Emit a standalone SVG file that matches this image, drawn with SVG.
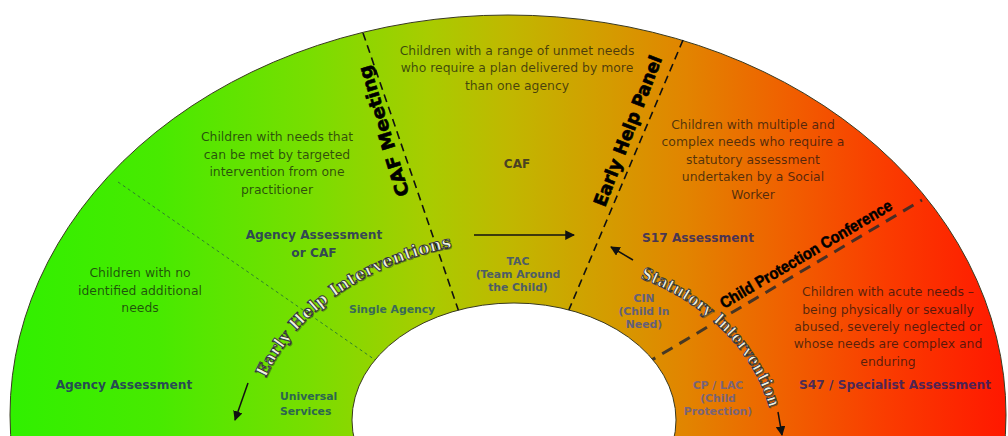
<svg xmlns="http://www.w3.org/2000/svg" width="1008" height="436" viewBox="0 0 1008 436">
<defs>
  <linearGradient id="bg" gradientUnits="userSpaceOnUse" x1="10" y1="0" x2="1005" y2="0">
    <stop offset="0" stop-color="#30f000"/>
    <stop offset="0.15" stop-color="#48ea00"/>
    <stop offset="0.3" stop-color="#78de00"/>
    <stop offset="0.42" stop-color="#a8cc00"/>
    <stop offset="0.5" stop-color="#c0b800"/>
    <stop offset="0.6" stop-color="#d49c00"/>
    <stop offset="0.68" stop-color="#e28400"/>
    <stop offset="0.78" stop-color="#f06000"/>
    <stop offset="0.88" stop-color="#fa3c00"/>
    <stop offset="1" stop-color="#ff1800"/>
  </linearGradient>
  <marker id="ah" viewBox="0 0 10 10" refX="9" refY="5" markerWidth="6.5" markerHeight="6.5" orient="auto"><path d="M0,0 L10,5 L0,10 z" fill="#111"/></marker>
  <path id="p-ehi" d="M 266 378 A 272 200 0 0 1 525 240"/>
  <path id="p-si" d="M 640 278 A 235 190 0 0 1 775 450"/>
</defs>
<style>
  .body{font-family:"DejaVu Sans",Verdana,sans-serif;font-size:12.4px;fill:#101010;fill-opacity:.7;text-anchor:middle}
  .lbl{font-family:"DejaVu Sans",Verdana,sans-serif;font-weight:bold;font-size:12.2px;text-anchor:middle;fill:#20206a;fill-opacity:.8}
  .sub{font-family:"DejaVu Sans",Verdana,sans-serif;font-weight:bold;font-size:10.8px;text-anchor:middle}
  .meet{font-family:"DejaVu Sans",Verdana,sans-serif;font-weight:bold;font-size:18px;fill:#000;stroke:#000;stroke-width:.6px;text-anchor:middle}
  .cpc{font-family:"Liberation Sans",Arial,sans-serif;font-weight:bold;font-size:16px;fill:#000;stroke:#000;stroke-width:.5px}
  .curve{font-family:"DejaVu Serif",serif;font-weight:bold;font-size:17px;fill:#eef2e4;stroke:#333;stroke-width:.9px}
  .shadow{font-family:"DejaVu Serif",serif;font-weight:bold;font-size:17px;fill:#333;fill-opacity:.45}
  .div{fill:none;stroke:#111;stroke-width:1.6;stroke-dasharray:8 5}
  .conn{fill:none;stroke:#111;stroke-width:1.5}
</style>

<g id="band">
  <ellipse cx="508" cy="415" rx="498" ry="400" fill="url(#bg)" stroke="#3a3a20" stroke-width="1"/>
  <line x1="118" y1="182" x2="381" y2="364" stroke="#2f7f2f" stroke-width="1" stroke-dasharray="3 3"/>
  <line class="div" x1="363" y1="33" x2="459" y2="312"/>
  <line class="div" x1="683" y1="40" x2="568" y2="312"/>
  <line x1="645" y1="364" x2="922" y2="200" stroke="#2a2a2a" stroke-width="3" stroke-dasharray="12 8" stroke-opacity=".85"/>
  <ellipse cx="514" cy="420" rx="162" ry="117" fill="#fff" stroke="#3a3a20" stroke-width="1"/>
</g>

<g id="line-labels">
  <text class="meet" transform="translate(384,131) rotate(-107)" y="6" textLength="136" lengthAdjust="spacingAndGlyphs">CAF Meeting</text>
  <text class="meet" transform="translate(628,131) rotate(-69)" y="6" textLength="160" lengthAdjust="spacingAndGlyphs">Early Help Panel</text>
  <text class="cpc" transform="translate(724,309) rotate(-30.6)" textLength="197" lengthAdjust="spacingAndGlyphs">Child Protection Conference</text>
</g>

<g id="curved-labels">
  <text class="shadow" transform="translate(1,1.2)"><textPath href="#p-ehi" textLength="236" lengthAdjust="spacingAndGlyphs">Early Help Interventions</textPath></text>
  <text class="curve"><textPath href="#p-ehi" textLength="236" lengthAdjust="spacingAndGlyphs">Early Help Interventions</textPath></text>
  <text class="shadow" transform="translate(1,1.2)"><textPath href="#p-si" textLength="190" lengthAdjust="spacingAndGlyphs">Statutory Intervention</textPath></text>
  <text class="curve"><textPath href="#p-si" textLength="190" lengthAdjust="spacingAndGlyphs">Statutory Intervention</textPath></text>
</g>

<g id="universal">
  <text class="body" x="140" y="277">Children with no</text>
  <text class="body" x="140" y="294.5">identified additional</text>
  <text class="body" x="140" y="312">needs</text>
  <text class="lbl" x="124" y="389">Agency Assessment</text>
  <text class="sub" x="280" y="399.5" fill="#2d6650" style="text-anchor:start">Universal</text>
  <text class="sub" x="280" y="414.5" fill="#2d6650" style="text-anchor:start">Services</text>
</g>

<g id="single-agency">
  <text class="body" x="277" y="141">Children with needs that</text>
  <text class="body" x="277" y="158.5">can be met by targeted</text>
  <text class="body" x="277" y="176">intervention from one</text>
  <text class="body" x="277" y="193.5">practitioner</text>
  <text class="lbl" x="314" y="239">Agency Assessment</text>
  <text class="lbl" x="314" y="257">or CAF</text>
  <text class="sub" x="392" y="313" fill="#3a6a58">Single Agency</text>
</g>

<g id="multi-agency">
  <text class="body" x="517" y="54.5">Children with a range of unmet needs</text>
  <text class="body" x="517" y="72">who require a plan delivered by more</text>
  <text class="body" x="517" y="89.5">than one agency</text>
  <text class="sub" x="517" y="167.5" fill="#4a4222" style="font-size:12px">CAF</text>
  <text class="sub" x="518" y="265" fill="#4d5d66">TAC</text>
  <text class="sub" x="518" y="278" fill="#4d5d66">(Team Around</text>
  <text class="sub" x="518" y="291" fill="#4d5d66">the Child)</text>
</g>

<g id="child-in-need">
  <text class="body" x="753" y="128.5">Children with multiple and</text>
  <text class="body" x="753" y="146">complex needs who require a</text>
  <text class="body" x="753" y="163.5">statutory assessment</text>
  <text class="body" x="753" y="181">undertaken by a Social</text>
  <text class="body" x="753" y="198.5">Worker</text>
  <text class="lbl" x="698" y="241.5">S17 Assessment</text>
  <text class="sub" x="644" y="301.5" fill="#63607a">CIN</text>
  <text class="sub" x="644" y="315" fill="#63607a">(Child In</text>
  <text class="sub" x="644" y="328" fill="#63607a">Need)</text>
</g>

<g id="child-protection">
  <text class="body" x="888" y="296">Children with acute needs –</text>
  <text class="body" x="888" y="313.5">being physically or sexually</text>
  <text class="body" x="888" y="331">abused, severely neglected or</text>
  <text class="body" x="888" y="348">whose needs are complex and</text>
  <text class="body" x="888" y="365.5">enduring</text>
  <text class="lbl" x="895" y="389">S47 / Specialist Assessment</text>
  <text class="sub" x="718" y="388.5" fill="#7a6478">CP / LAC</text>
  <text class="sub" x="718" y="401.5" fill="#7a6478">(Child</text>
  <text class="sub" x="718" y="415" fill="#7a6478">Protection)</text>
</g>

<g id="connectors">
  <line class="conn" x1="474" y1="235" x2="574" y2="235" marker-end="url(#ah)"/>
  <line class="conn" x1="633" y1="260" x2="611" y2="247" marker-end="url(#ah)"/>
  <line class="conn" x1="248" y1="383" x2="235" y2="420" marker-end="url(#ah)"/>
  <line class="conn" x1="778" y1="412" x2="782" y2="435" marker-end="url(#ah)"/>
</g>
</svg>
